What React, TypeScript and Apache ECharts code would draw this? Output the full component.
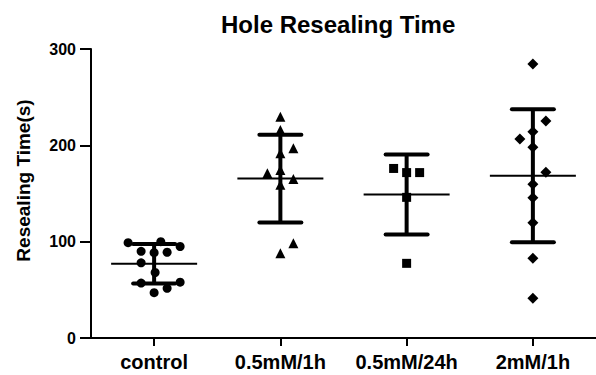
import React, { useEffect, useRef } from "react";
import * as echarts from "echarts";

const categories = ["control", "0.5mM/1h", "0.5mM/24h", "2mM/1h"];
const yTicks = [0, 100, 200, 300];

// points: [horizontal jitter (in category widths), value]
const controlPts: number[][] = [
  [-0.206, 99], [0.053, 100], [0.206, 95], [-0.103, 90], [0, 88.6], [0.103, 89],
  [-0.103, 78], [0.008, 68], [-0.103, 57], [0.206, 58], [0.103, 51.6], [0, 47],
];
const pt5mM1hPts: number[][] = [
  [0, 229.8], [0, 216], [0.103, 197], [0, 191.8], [0, 174.5], [-0.103, 171],
  [0.103, 165], [0, 159], [0.103, 98.3], [0, 88],
];
const pt5mM24hPts: number[][] = [
  [-0.103, 176], [0, 171.7], [0.103, 171.7], [0, 146], [0, 77.5],
];
const mM2_1hPts: number[][] = [
  [0, 284.5], [0.103, 225.3], [0, 214], [-0.103, 206.6], [0, 198], [0.103, 172],
  [0, 159.6], [0, 145.7], [0, 119.7], [0, 82.8], [0, 41.2],
];

const means = [77, 165.5, 149, 168.5];
const sds = [20.5, 45.5, 41.5, 69];

const groups = [controlPts, pt5mM1hPts, pt5mM24hPts, mM2_1hPts];
const symbols = ["circle", "triangle", "rect", "diamond"];
const symbolSizes = [9, 10, 9, 11];

const FONT = "'Liberation Sans', Arial, Helvetica, sans-serif";

export default function App() {
  const ref = useRef<HTMLDivElement>(null);
  useEffect(() => {
    if (!ref.current) return;
    const chart = echarts.init(ref.current, null, { renderer: "svg" });
    const scatterSeries = groups.map((g, i) => ({
      type: "scatter",
      name: categories[i],
      xAxisIndex: 1,
      symbol: symbols[i],
      symbolSize: symbolSizes[i],
      itemStyle: { color: "#000", opacity: 1 },
      z: 5,
      data: g.map((p) => [i + p[0], p[1]]),
    }));
    const option: any = {
      animation: false,
      backgroundColor: "#fff",
      title: {
        text: "Hole Resealing Time",
        left: 221,
        top: 12,
        padding: 0,
        textStyle: { fontFamily: FONT, fontWeight: "bold", fontSize: 24, color: "#000" },
      },
      grid: { left: 91, right: 0, top: 49, bottom: 37, containLabel: false },
      xAxis: [
        {
          type: "category",
          data: categories,
          boundaryGap: true,
          z: 10,
          axisLine: { onZero: false, lineStyle: { color: "#000", width: 2 } },
          axisTick: { show: true, alignWithLabel: true, interval: 0, length: 8, lineStyle: { color: "#000", width: 2 } },
          axisLabel: { interval: 0, color: "#000", fontFamily: FONT, fontWeight: "bold", fontSize: 20, margin: 14 },
          splitLine: { show: false },
        },
        {
          type: "value",
          min: -0.5,
          max: 3.5,
          show: false,
        },
      ],
      yAxis: {
        type: "value",
        min: 0,
        max: 300,
        interval: 100,
        name: "Resealing Time(s)",
        nameLocation: "middle",
        nameGap: 58,
        nameTextStyle: {
          color: "#000", fontFamily: FONT, fontWeight: "bold", fontSize: 19,
          padding: [0, 0, 0, 26],
        },
        axisLine: { show: true, onZero: false, lineStyle: { color: "#000", width: 2 } },
        axisTick: { show: true, length: 11, lineStyle: { color: "#000", width: 2 } },
        axisLabel: {
          color: "#000", fontFamily: FONT, fontWeight: "bold", fontSize: 16, margin: 15,
          formatter: (v: number) => (yTicks.includes(v) ? String(v) : ""),
        },
        splitLine: { show: false },
      },
      series: [
        {
          type: "custom",
          xAxisIndex: 1,
          z: 3,
          data: means.map((m, i) => [i, m, sds[i]]),
          encode: { x: 0, y: 1 },
          renderItem: (params: any, api: any) => {
            const i = api.value(0);
            const m = api.value(1);
            const s = api.value(2);
            const c = api.coord([i, m]);
            const hi = api.coord([i, m + s]);
            const lo = api.coord([i, m - s]);
            const meanHalf = 43;
            const capHalf = 21;
            const thick = { stroke: "#000", lineWidth: 4, lineCap: "round" };
            return {
              type: "group",
              children: [
                { type: "line", shape: { x1: c[0], y1: hi[1], x2: c[0], y2: lo[1] }, style: { stroke: "#000", lineWidth: 4 } },
                { type: "line", shape: { x1: c[0] - capHalf, y1: hi[1], x2: c[0] + capHalf, y2: hi[1] }, style: thick },
                { type: "line", shape: { x1: c[0] - capHalf, y1: lo[1], x2: c[0] + capHalf, y2: lo[1] }, style: thick },
                { type: "line", shape: { x1: c[0] - meanHalf, y1: c[1], x2: c[0] + meanHalf, y2: c[1] }, style: { stroke: "#000", lineWidth: 2 } },
              ],
            };
          },
        },
        ...scatterSeries,
      ],
    };
    chart.setOption(option);
    return () => chart.dispose();
  }, []);
  return (
    <div
      ref={ref}
      style={{ position: "fixed", left: 0, top: 0, width: 596, height: 375, background: "#fff" }}
    />
  );
}
